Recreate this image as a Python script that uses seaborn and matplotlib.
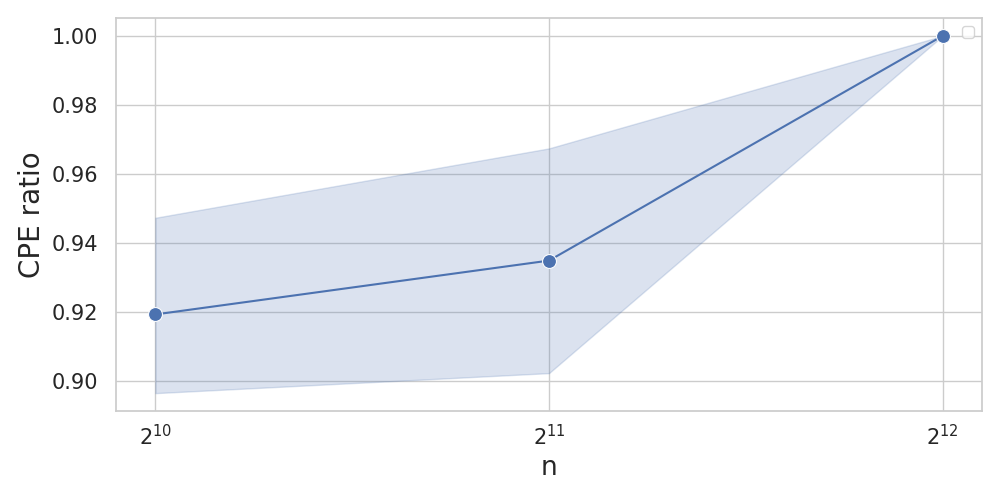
import numpy as np
import pandas as pd
import matplotlib
matplotlib.use("Agg")
import matplotlib.pyplot as plt
import seaborn as sns

# values
n_values = [1024, 2048, 4096]
cpe_ratio = [0.9193, 0.9349, 1.0]
ci_low = [0.8965, 0.9023, 1.0]
ci_high = [0.9473, 0.9674, 1.0]

sns.set_theme(style="whitegrid")
plt.rcParams['font.family'] = ['DejaVu Sans']

df = pd.DataFrame({'n': n_values, 'CPE ratio': cpe_ratio})

fig, ax = plt.subplots(figsize=(10, 5), dpi=100)
sns.lineplot(data=df, x='n', y='CPE ratio', marker='o', markersize=10, ax=ax)
color = sns.color_palette()[0]
ax.fill_between(n_values, ci_low, ci_high, color=color, alpha=0.2)

ax.set_xscale('log', base=2)
ax.set_xticks(n_values)
ax.set_xticklabels([r'$2^{10}$', r'$2^{11}$', r'$2^{12}$'])
ax.tick_params(axis='both', labelsize=15)
ax.tick_params(axis='y', pad=7)
ax.set_xlabel('n', fontsize=19)
ax.set_ylabel('CPE ratio', fontsize=20)
ax.legend()

fig.subplots_adjust(left=0.116, right=0.982, top=0.964, bottom=0.178)
plt.savefig('out.png')
